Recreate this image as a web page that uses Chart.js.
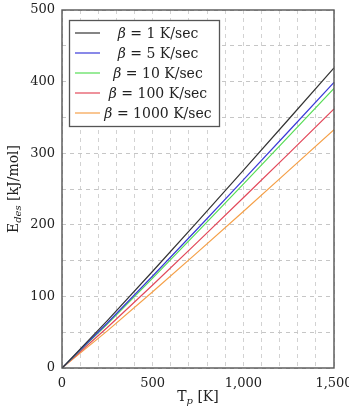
<!DOCTYPE html>
<html>
<head>
<meta charset="utf-8">
<script src="https://cdn.jsdelivr.net/npm/chart.js@4"></script>
<style>
  html, body { margin: 0; padding: 0; background: #fff; }
  #wrap { width: 349px; height: 410px; position: relative; }
</style>
</head>
<body>
<div id="wrap"><canvas id="c" width="349" height="410"></canvas></div>
<script>
// Peak temperature Tp [K]
const temps = [0, 250, 500, 750, 1000, 1250, 1500];
// Desorption energy [kJ/mol] for each heating rate
const e_beta1 = [0, 66.1, 135.1, 205.2, 276.0, 347.4, 419.1];
const e_beta5 = [0, 62.8, 128.5, 195.2, 262.7, 330.7, 399.0];
const e_beta10 = [0, 61.3, 125.6, 190.9, 256.9, 323.4, 390.4];
const e_beta100 = [0, 56.6, 116.0, 176.5, 237.8, 299.5, 361.7];
const e_beta1000 = [0, 51.8, 106.4, 162.2, 218.6, 275.6, 333.0];
const seriesLabels = ['1', '5', '10', '100', '1000'];
const seriesColors = ['#333333', '#3a3ad8', '#55dd55', '#e2485a', '#f5a048'];
const xTicks = [0, 500, 1000, 1500];
const yTicks = [0, 100, 200, 300, 400, 500];

const seriesValues = [e_beta1, e_beta5, e_beta10, e_beta100, e_beta1000];
const datasets = seriesValues.map((vals, i) => ({
  label: seriesLabels[i],
  data: temps.map((t, j) => ({ x: t, y: vals[j] })),
  borderColor: seriesColors[i],
  borderWidth: 1.2,
  pointRadius: 0,
  tension: 0,
  fill: false
}));

const FONT = '"DejaVu Serif", serif';

const decor = {
  id: 'decor',
  afterDraw(chart) {
    const ctx = chart.ctx, a = chart.chartArea;
    ctx.save();
    // frame
    ctx.strokeStyle = '#555';
    ctx.lineWidth = 1.4;
    ctx.strokeRect(a.left, a.top, a.right - a.left, a.bottom - a.top);

    // legend
    const bx = 69.5, by = 20.5, bw = 150, bh = 106;
    ctx.fillStyle = '#fff';
    ctx.fillRect(bx, by, bw, bh);
    ctx.lineWidth = 1.3;
    ctx.strokeRect(bx, by, bw, bh);
    chart.data.datasets.forEach((ds, i) => {
      const yc = 33 + i * 20;
      ctx.strokeStyle = ds.borderColor;
      ctx.lineWidth = 1.2;
      ctx.beginPath();
      ctx.moveTo(75, yc); ctx.lineTo(100, yc); ctx.stroke();
      const partB = 'β';
      const rest = ' = ' + ds.label + ' K/sec';
      ctx.font = 'italic 14px ' + FONT;
      const wB = ctx.measureText(partB).width;
      ctx.font = '14px ' + FONT;
      const wR = ctx.measureText(rest).width;
      const x0 = 158 - (wB + wR) / 2;
      ctx.fillStyle = '#222';
      ctx.textBaseline = 'middle';
      ctx.textAlign = 'left';
      ctx.font = 'italic 14px ' + FONT;
      ctx.fillText(partB, x0, yc + 1);
      ctx.font = '14px ' + FONT;
      ctx.fillText(rest, x0 + wB, yc + 1);
    });

    // x title: T_p [K]
    ctx.fillStyle = '#222';
    ctx.textBaseline = 'alphabetic';
    const xc = (a.left + a.right) / 2;
    ctx.font = '14px ' + FONT;
    const wT = ctx.measureText('T').width;
    ctx.font = 'italic 10px ' + FONT;
    const wp = ctx.measureText('p').width;
    ctx.font = '14px ' + FONT;
    const wK = ctx.measureText(' [K]').width;
    let x = xc - (wT + wp + wK) / 2;
    const yb = 401;
    ctx.fillText('T', x, yb); x += wT;
    ctx.font = 'italic 10px ' + FONT;
    ctx.fillText('p', x, yb + 3); x += wp;
    ctx.font = '14px ' + FONT;
    ctx.fillText(' [K]', x, yb);

    // y title: E_des [kJ/mol]
    ctx.translate(18, (a.top + a.bottom) / 2);
    ctx.rotate(-Math.PI / 2);
    ctx.font = '14px ' + FONT;
    const wE = ctx.measureText('E').width;
    ctx.font = 'italic 10px ' + FONT;
    const wd = ctx.measureText('des').width;
    ctx.font = '14px ' + FONT;
    const wU = ctx.measureText(' [kJ/mol]').width;
    x = -(wE + wd + wU) / 2;
    ctx.fillText('E', x, 0); x += wE;
    ctx.font = 'italic 10px ' + FONT;
    ctx.fillText('des', x, 3); x += wd;
    ctx.font = '14px ' + FONT;
    ctx.fillText(' [kJ/mol]', x, 0);
    ctx.restore();
  }
};

new Chart(document.getElementById('c'), {
  type: 'line',
  data: { datasets },
  options: {
    responsive: false,
    animation: false,
    layout: { padding: { left: 0, top: 10, right: 15, bottom: 0 } },
    plugins: { legend: { display: false }, tooltip: { enabled: false } },
    scales: {
      x: {
        type: 'linear',
        min: 0, max: 1500,
        grid: { color: '#d2d2d2', lineWidth: 1, drawTicks: false },
        border: { display: false, dash: [4, 4] },
        ticks: {
          stepSize: 100,
          autoSkip: false,
          maxRotation: 0,
          padding: 8,
          color: '#222',
          font: { family: FONT, size: 13 },
          callback: (v) => xTicks.includes(v) ? v.toLocaleString('en-US') : ''
        },
        afterFit: (s) => { s.height = 42; s.paddingRight = 0; s.paddingLeft = 0; }
      },
      y: {
        min: 0, max: 500,
        grid: { color: '#c6c6c6', lineWidth: 1, drawTicks: false },
        border: { display: false, dash: [4, 4] },
        ticks: {
          stepSize: 50,
          autoSkip: false,
          padding: 7,
          color: '#222',
          font: { family: FONT, size: 13 },
          callback: (v) => yTicks.includes(v) ? String(v) : ''
        },
        afterFit: (s) => { s.width = 62; s.paddingTop = 0; s.paddingBottom = 0; }
      }
    }
  },
  plugins: [decor]
});
</script>
</body>
</html>
